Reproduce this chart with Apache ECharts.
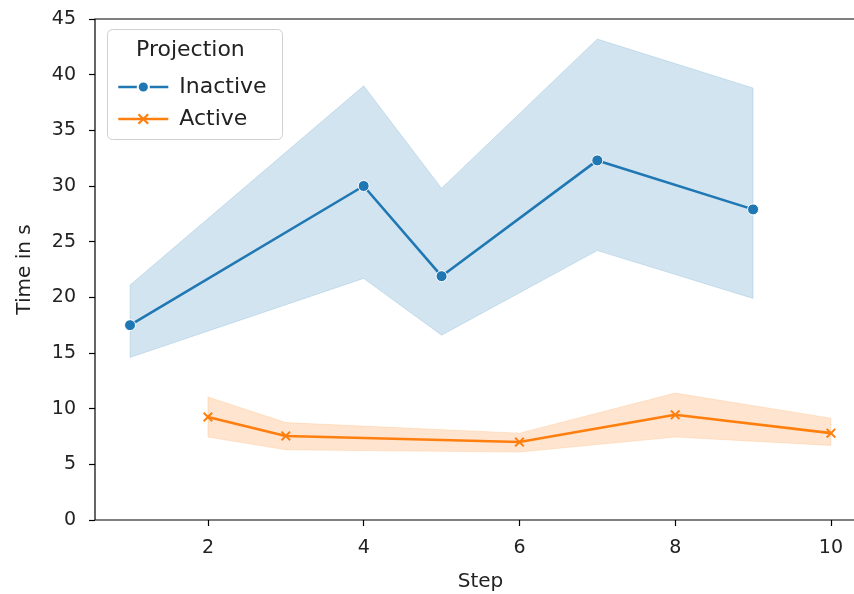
<!DOCTYPE html>
<html>
<head>
<meta charset="utf-8">
<script src="https://cdn.jsdelivr.net/npm/echarts@6/dist/echarts.min.js"></script>
<style>
html,body{margin:0;padding:0;background:#fff;}
#chart{width:854px;height:594px;}
</style>
</head>
<body>
<div id="chart"></div>
<script>
// Data
var inactiveSteps = [1, 4, 5, 7, 9];
var inactiveMean  = [17.5, 30.0, 21.9, 32.3, 27.9];
var inactiveLow   = [14.6, 21.7, 16.6, 24.2, 19.9];
var inactiveHigh  = [21.1, 39.0, 29.8, 43.2, 38.8];

var activeSteps = [2, 3, 6, 8, 10];
var activeMean  = [9.25, 7.55, 7.0, 9.45, 7.8];
var activeLow   = [7.45, 6.3, 6.1, 7.45, 6.7];
var activeHigh  = [11.05, 8.75, 7.8, 11.4, 9.15];

var xTicks = [2, 4, 6, 8, 10];
var yTicks = [0, 5, 10, 15, 20, 25, 30, 35, 40, 45];

var FONT = 'DejaVu Sans';
var BLUE = '#1f77b4';
var ORANGE = '#ff7f0e';
var X_SYMBOL = 'path://M0,1.4 L1.4,0 L5,3.6 L8.6,0 L10,1.4 L6.4,5 L10,8.6 L8.6,10 L5,6.4 L1.4,10 L0,8.6 L3.6,5 Z';

function pairs(xs, ys) { return xs.map(function (x, i) { return [x, ys[i]]; }); }

function bandSeries(xs, lo, hi, color) {
  return {
    type: 'custom',
    silent: true,
    z: 1,
    data: xs.map(function (x, i) { return [x, lo[i], hi[i]]; }),
    encode: { x: 0, y: [1, 2] },
    renderItem: function (params, api) {
      if (params.dataIndex !== 0) return null;
      var pts = [];
      for (var i = 0; i < xs.length; i++) pts.push(api.coord([xs[i], hi[i]]));
      for (var j = xs.length - 1; j >= 0; j--) pts.push(api.coord([xs[j], lo[j]]));
      return { type: 'polygon', shape: { points: pts }, style: { fill: color, stroke: color, lineWidth: 0.8 } };
    }
  };
}

var chart = echarts.init(document.getElementById('chart'), null, { renderer: 'canvas' });
chart.setOption({
  animation: false,
  backgroundColor: '#ffffff',
  textStyle: { fontFamily: FONT },
  grid: {
    left: 95, top: 19, width: 771, height: 501,
    show: true, borderColor: '#000', borderWidth: 1.2, backgroundColor: 'transparent',
    outerBoundsMode: 'none', containLabel: false
  },
  xAxis: {
    type: 'value', min: 0.55, max: 10.45,
    name: 'Step', nameLocation: 'middle', nameGap: 52,
    nameTextStyle: { fontFamily: FONT, fontSize: 20, color: '#222' },
    axisLine: { show: false },
    axisTick: { show: true, length: 6, lineStyle: { color: '#000', width: 1.2 }, customValues: xTicks },
    axisLabel: { fontFamily: FONT, fontSize: 19, color: '#222', margin: 19, customValues: xTicks },
    splitLine: { show: false }
  },
  yAxis: {
    type: 'value', min: 0, max: 45, interval: 5,
    name: 'Time in s', nameLocation: 'middle', nameGap: 60, nameRotate: 90,
    nameTextStyle: { fontFamily: FONT, fontSize: 20, color: '#222' },
    axisLine: { show: false },
    axisTick: { show: true, length: 6, lineStyle: { color: '#000', width: 1.2 } },
    axisLabel: { fontFamily: FONT, fontSize: 19, color: '#222', margin: 19,
      formatter: function (v) { return yTicks.indexOf(v) >= 0 ? String(v) : ''; } },
    splitLine: { show: false }
  },
  legend: {
    data: ['Inactive', 'Active'],
    orient: 'vertical', left: 112, top: 71,
    itemWidth: 50, itemHeight: 14, itemGap: 10,
    lineStyle: { width: 2.6 },
    textStyle: { fontFamily: FONT, fontSize: 22, color: '#222', padding: [0, 0, 0, 6] },
    selectedMode: false
  },
  graphic: [
    { type: 'rect', left: 107, top: 29, z: 3,
      shape: { width: 175, height: 110, r: 5 },
      style: { fill: 'rgba(255,255,255,0.8)', stroke: '#d0d0d0', lineWidth: 1 } },
    { type: 'text', left: 136, top: 39, z: 4,
      style: { text: 'Projection', font: '22px "DejaVu Sans"', fill: '#222' } }
  ],
  series: [
    bandSeries(inactiveSteps, inactiveLow, inactiveHigh, 'rgba(31,119,180,0.2)'),
    bandSeries(activeSteps, activeLow, activeHigh, 'rgba(255,127,14,0.2)'),
    {
      name: 'Inactive', type: 'line', z: 3,
      data: pairs(inactiveSteps, inactiveMean),
      symbol: 'circle', symbolSize: 11,
      lineStyle: { color: BLUE, width: 2.6 },
      itemStyle: { color: BLUE, borderColor: '#fff', borderWidth: 1 }
    },
    {
      name: 'Active', type: 'line', z: 3,
      data: pairs(activeSteps, activeMean),
      symbol: X_SYMBOL, symbolSize: 10,
      lineStyle: { color: ORANGE, width: 2.6 },
      itemStyle: { color: ORANGE }
    }
  ]
});
</script>
</body>
</html>
